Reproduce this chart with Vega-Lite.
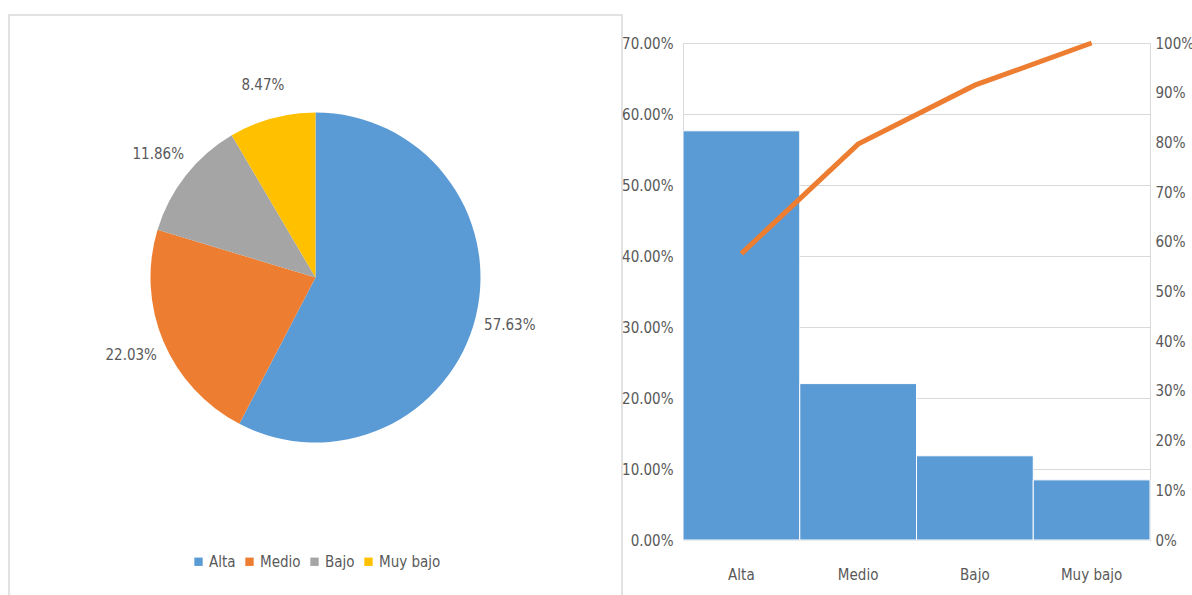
{
  "$schema": "https://vega.github.io/schema/vega-lite/v6.json",
  "background": "white",
  "padding": {"left": 8, "top": 14, "right": 0, "bottom": 0},
  "spacing": -2,
  "config": {
    "font": "DejaVu Sans Condensed, Liberation Sans, sans-serif",
    "axis": {"labelFontSize": 15, "labelColor": "#595959", "labelFont": "DejaVu Sans Condensed, Liberation Sans, sans-serif"},
    "legend": {"labelFontSize": 15, "labelColor": "#595959", "labelFont": "DejaVu Sans Condensed, Liberation Sans, sans-serif"}
  },
  "datasets": {
    "niveles": [
      {"nivel": "Alta", "pct": 0.5763, "acum": 0.5763, "orden": 1},
      {"nivel": "Medio", "pct": 0.2203, "acum": 0.7966, "orden": 2},
      {"nivel": "Bajo", "pct": 0.1186, "acum": 0.9152, "orden": 3},
      {"nivel": "Muy bajo", "pct": 0.0847, "acum": 1.0, "orden": 4}
    ]
  },
  "hconcat": [
    {
      "width": 613,
      "height": 584,
      "view": {"stroke": "#d9d9d9", "strokeWidth": 1.5},
      "data": {"name": "niveles"},
      "encoding": {
        "theta": {"field": "pct", "type": "quantitative", "stack": true},
        "order": {"field": "orden", "type": "quantitative"}
      },
      "layer": [
        {
          "mark": {"type": "arc", "radius": 165, "yOffset": -29.5},
          "encoding": {
            "color": {
              "field": "nivel",
              "type": "nominal",
              "scale": {
                "domain": ["Alta", "Medio", "Bajo", "Muy bajo"],
                "range": ["#5B9BD5", "#ED7D31", "#A5A5A5", "#FFC000"]
              },
              "legend": {
                "orient": "none",
                "legendX": 182,
                "legendY": 539,
                "direction": "horizontal",
                "title": null,
                "symbolType": "square",
                "symbolSize": 70,
                "symbolStrokeWidth": 0,
                "columnPadding": 6,
                "labelOffset": 3
              }
            }
          }
        },
        {
          "mark": {"type": "text", "radius": 200, "yOffset": -29.5, "fontSize": 15, "color": "#595959"},
          "encoding": {
            "detail": {"field": "nivel", "type": "nominal"},
            "text": {"field": "pct", "type": "quantitative", "format": ".2%"}
          }
        }
      ]
    },
    {
      "spacing": 7,
      "vconcat": [
        {
          "width": 467,
          "height": 10,
          "view": {"stroke": null},
          "data": {"values": [{}]},
          "mark": {"type": "text"},
          "encoding": {"text": {"value": ""}}
        },
        {
          "width": 467,
          "height": 497,
          "view": {"stroke": "#d9d9d9"},
          "data": {"name": "niveles"},
          "encoding": {
            "x": {
              "field": "nivel",
              "type": "nominal",
              "sort": ["Alta", "Medio", "Bajo", "Muy bajo"],
              "scale": {"paddingInner": 0, "paddingOuter": 0},
              "axis": {"title": null, "labelAngle": 0, "ticks": false, "domain": false, "labelPadding": 27}
            }
          },
          "layer": [
            {
              "mark": {"type": "bar", "color": "#5B9BD5", "stroke": "white", "strokeWidth": 1},
              "encoding": {
                "y": {
                  "field": "pct",
                  "type": "quantitative",
                  "scale": {"domain": [0, 0.7], "nice": false},
                  "axis": {
                    "title": null,
                    "values": [0, 0.1, 0.2, 0.3, 0.4, 0.5, 0.6, 0.7],
                    "format": ".2%",
                    "grid": true,
                    "gridColor": "#d9d9d9",
                    "domain": false,
                    "ticks": false,
                    "labelPadding": 10
                  }
                }
              }
            },
            {
              "mark": {"type": "line", "color": "#ED7D31", "strokeWidth": 5},
              "encoding": {
                "y": {
                  "field": "acum",
                  "type": "quantitative",
                  "scale": {"domain": [0, 1], "nice": false},
                  "axis": {
                    "orient": "right",
                    "title": null,
                    "values": [0, 0.1, 0.2, 0.3, 0.4, 0.5, 0.6, 0.7, 0.8, 0.9, 1],
                    "format": ".0%",
                    "grid": false,
                    "domain": false,
                    "ticks": false,
                    "labelPadding": 5
                  }
                }
              }
            }
          ],
          "resolve": {"scale": {"y": "independent"}}
        }
      ]
    }
  ]
}
